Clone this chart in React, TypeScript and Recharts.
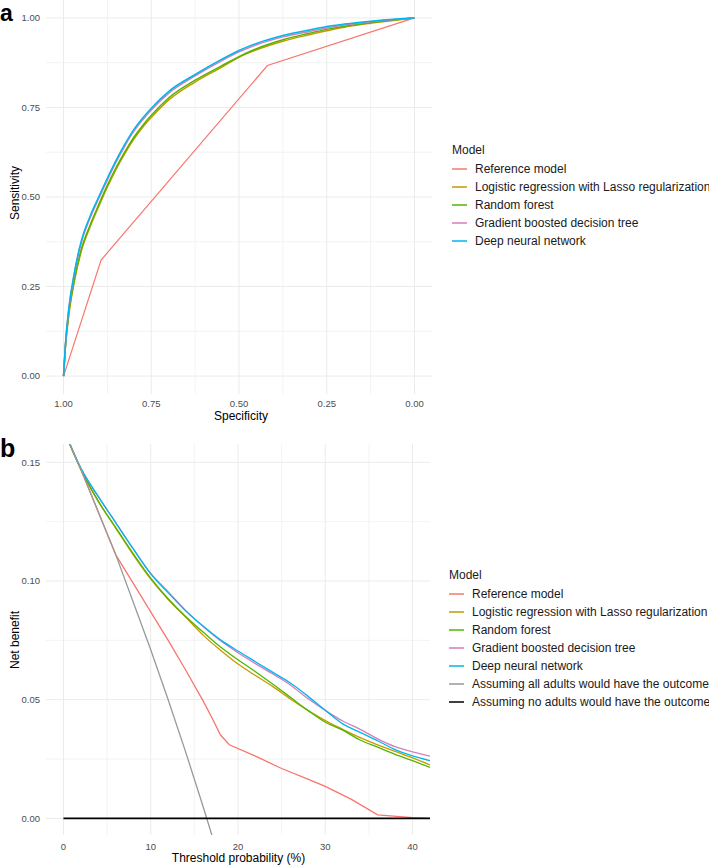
import React from "react"
import { LineChart, Line, XAxis, YAxis, CartesianGrid, Legend } from "recharts"

const FONT = "'Liberation Sans', Arial, Helvetica, sans-serif"

const modelNames = [
  "Reference model",
  "Logistic regression with Lasso regularization",
  "Random forest",
  "Gradient boosted decision tree",
  "Deep neural network",
]
const modelColors = ["#F8766D", "#C49A00", "#53B400", "#D67DBA", "#00B6EB"]
const baselineNames = ["Assuming all adults would have the outcome", "Assuming no adults would have the outcome"]
const baselineColors = ["#999999", "#000000"]

// panel a: ROC curves (specificity -> sensitivity)
const refSpec = [1, 0.893, 0.419, 0]
const refSens = [0, 0.324, 0.867, 1]

const rocSpec = [1, 0.995, 0.985, 0.97, 0.95, 0.925, 0.9, 0.875, 0.85, 0.825, 0.8, 0.775, 0.75, 0.7, 0.625, 0.55, 0.5, 0.45, 0.375, 0.3, 0.25, 0.2, 0.125, 0.05, 0]
const sensLasso = [0, 0.075, 0.17, 0.26, 0.347, 0.415, 0.473, 0.528, 0.578, 0.622, 0.661, 0.694, 0.722, 0.771, 0.821, 0.862, 0.89, 0.911, 0.935, 0.953, 0.964, 0.974, 0.985, 0.994, 1]
const sensRf = [0, 0.078, 0.175, 0.265, 0.352, 0.42, 0.478, 0.533, 0.583, 0.627, 0.666, 0.699, 0.728, 0.777, 0.826, 0.866, 0.892, 0.914, 0.939, 0.957, 0.968, 0.977, 0.987, 0.995, 1]
const sensGbdt = [0, 0.083, 0.187, 0.281, 0.371, 0.44, 0.495, 0.548, 0.598, 0.643, 0.683, 0.715, 0.743, 0.79, 0.838, 0.88, 0.905, 0.925, 0.947, 0.962, 0.972, 0.98, 0.989, 0.996, 1]
const sensDnn = [0, 0.085, 0.19, 0.285, 0.375, 0.445, 0.5, 0.553, 0.603, 0.648, 0.688, 0.72, 0.748, 0.795, 0.842, 0.884, 0.909, 0.929, 0.951, 0.966, 0.976, 0.983, 0.991, 0.997, 1]

const rocTicks = [0, 0.25, 0.5, 0.75, 1]
const rocMinor = [0.125, 0.375, 0.625, 0.875]

// panel b: decision curves (threshold % -> net benefit)
const thr = [0, 2, 4, 6, 8, 10, 12, 14, 16, 18, 20, 22, 24, 26, 28, 30, 32, 34, 36, 38, 40, 42]
const nbLasso = [0.164, 0.147, 0.1335, 0.1222, 0.111, 0.1008, 0.0922, 0.0848, 0.0772, 0.0708, 0.065, 0.0602, 0.0555, 0.0503, 0.0455, 0.0412, 0.0375, 0.034, 0.031, 0.0282, 0.0255, 0.0225]
const nbRf = [0.164, 0.147, 0.1335, 0.1225, 0.1115, 0.1012, 0.0925, 0.085, 0.0785, 0.0722, 0.0668, 0.0618, 0.0565, 0.051, 0.0455, 0.0405, 0.0372, 0.033, 0.03, 0.027, 0.0243, 0.0215]
const nbGbdt = [0.164, 0.1475, 0.1355, 0.1245, 0.1135, 0.1032, 0.0955, 0.0875, 0.0808, 0.0748, 0.0698, 0.0652, 0.0608, 0.0562, 0.0505, 0.0455, 0.041, 0.0375, 0.0335, 0.0302, 0.028, 0.0262]
const nbDnn = [0.164, 0.1475, 0.1355, 0.1245, 0.1135, 0.103, 0.095, 0.0875, 0.081, 0.0752, 0.0705, 0.066, 0.0615, 0.057, 0.0515, 0.0455, 0.0398, 0.0362, 0.0327, 0.029, 0.0263, 0.0243]

const refThr = [0, 2, 4, 6, 8, 10, 12, 14, 16, 17, 18, 19, 22, 25, 28, 30, 33, 36, 40, 42]
const nbRef = [0.164, 0.147, 0.129, 0.111, 0.099, 0.087, 0.075, 0.0625, 0.0495, 0.0425, 0.0351, 0.031, 0.0262, 0.021, 0.0165, 0.0135, 0.008, 0.0015, 0.0003, 0]

const allThr = [0, 2, 4, 6, 8, 10, 12, 14, 16, 18]
const nbAll = [0.164, 0.147, 0.129, 0.111, 0.091, 0.071, 0.05, 0.028, 0.005, -0.019]
const noneThr = [0, 42]
const nbNone = [0, 0]

const nbTicks = [0, 0.05, 0.1, 0.15]
const nbMinor = [0.025, 0.075, 0.125]
const thrTicks = [0, 10, 20, 30, 40]
const thrMinor = [5, 15, 25, 35]

const zip = (xs: number[], ys: number[]) => xs.map((x, i) => ({ x, y: ys[i] }))

const rocSeries = [
  zip(refSpec, refSens),
  zip(rocSpec, sensLasso),
  zip(rocSpec, sensRf),
  zip(rocSpec, sensGbdt),
  zip(rocSpec, sensDnn),
]
const dcaSeries = [
  zip(refThr, nbRef),
  zip(thr, nbLasso),
  zip(thr, nbRf),
  zip(thr, nbGbdt),
  zip(thr, nbDnn),
  zip(allThr, nbAll),
  zip(noneThr, nbNone),
]

const tickStyle = { fontSize: 9.5, fill: "#4D4D4D", fontFamily: FONT }

function ModelLegend({ names, colors }: { names: string[]; colors: string[] }) {
  return (
    <div style={{ fontFamily: FONT, fontSize: 12, color: "#1a1a1a", whiteSpace: "nowrap" }}>
      <div style={{ height: 20, lineHeight: "20px" }}>Model</div>
      {names.map((n, i) => (
        <div key={n} style={{ height: 18, display: "flex", alignItems: "center" }}>
          <svg width={23} height={18} style={{ flex: "none" }}>
            <line x1={0} x2={15} y1={9} y2={9} stroke={colors[i]} strokeWidth={1.5} />
          </svg>
          <span style={{ lineHeight: "18px" }}>{n}</span>
        </div>
      ))}
    </div>
  )
}

export default function App() {
  const dcaNames = [...modelNames, ...baselineNames]
  const dcaColors = [...modelColors, ...baselineColors]
  return (
    <div style={{ position: "absolute", left: 0, top: 0, width: 709, height: 865, background: "#fff" }}>
      <div style={{ position: "absolute", left: 0, top: 0 }}>
        <LineChart width={709} height={420} margin={{ top: 0, right: 277, bottom: 6, left: 0 }}>
          <CartesianGrid stroke="#EEEEEE" strokeWidth={0.7} horizontalValues={rocMinor} verticalValues={rocMinor} />
          <CartesianGrid stroke="#EBEBEB" strokeWidth={1} horizontalValues={rocTicks} verticalValues={rocTicks} />
          <XAxis
            type="number"
            dataKey="x"
            reversed
            domain={[-0.05, 1.05]}
            allowDataOverflow
            ticks={rocTicks}
            interval={0}
            tickFormatter={(v) => Number(v).toFixed(2)}
            axisLine={false}
            tickLine={false}
            tickSize={0}
            tickMargin={6}
            height={20}
            tick={tickStyle}
          />
          <YAxis
            type="number"
            domain={[-0.05, 1.05]}
            allowDataOverflow
            ticks={rocTicks}
            interval={0}
            tickFormatter={(v) => Number(v).toFixed(2)}
            axisLine={false}
            tickLine={false}
            tickSize={0}
            tickMargin={6}
            width={46}
            tick={tickStyle}
          />
          {rocSeries.map((d, i) => (
            <Line
              key={modelNames[i]}
              data={d}
              dataKey="y"
              name={modelNames[i]}
              type={i === 0 ? "linear" : "monotone"}
              stroke={modelColors[i]}
              strokeWidth={i === 0 ? 1.2 : 1.5}
              dot={false}
              isAnimationActive={false}
            />
          ))}
          <Legend
            layout="vertical"
            align="center"
            verticalAlign="middle"
            wrapperStyle={{ left: 452, top: 140 }}
            content={() => <ModelLegend names={modelNames} colors={modelColors} />}
          />
        </LineChart>
      </div>

      <div style={{ position: "absolute", left: 0, top: 430 }}>
        <LineChart width={709} height={435} margin={{ top: 14, right: 279, bottom: 10, left: 0 }}>
          <CartesianGrid stroke="#EEEEEE" strokeWidth={0.7} horizontalValues={nbMinor} verticalValues={thrMinor} />
          <CartesianGrid stroke="#EBEBEB" strokeWidth={1} horizontalValues={nbTicks} verticalValues={thrTicks} />
          <XAxis
            type="number"
            dataKey="x"
            domain={[-2, 42]}
            allowDataOverflow
            ticks={thrTicks}
            interval={0}
            axisLine={false}
            tickLine={false}
            tickSize={0}
            tickMargin={8}
            height={20}
            tick={tickStyle}
          />
          <YAxis
            type="number"
            domain={[-0.007, 0.1577]}
            allowDataOverflow
            ticks={nbTicks}
            interval={0}
            tickFormatter={(v) => Number(v).toFixed(2)}
            axisLine={false}
            tickLine={false}
            tickSize={0}
            tickMargin={6}
            width={46}
            tick={tickStyle}
          />
          {dcaSeries.map((d, i) => (
            <Line
              key={dcaNames[i]}
              data={d}
              dataKey="y"
              name={dcaNames[i]}
              type={i === 0 || i >= 5 ? "linear" : "monotone"}
              stroke={dcaColors[i]}
              strokeWidth={i === 6 ? 1.6 : 1.3}
              dot={false}
              isAnimationActive={false}
            />
          ))}
          <Legend
            layout="vertical"
            align="center"
            verticalAlign="middle"
            wrapperStyle={{ left: 449, top: 135 }}
            content={() => <ModelLegend names={dcaNames} colors={dcaColors} />}
          />
        </LineChart>
      </div>

      <svg width={709} height={865} style={{ position: "absolute", left: 0, top: 0, pointerEvents: "none" }}>
        <g fontFamily={FONT}>
          <text x={0} y={21} fontSize={23} fontWeight="bold" fill="#000">a</text>
          <text x={0} y={457} fontSize={25} fontWeight="bold" fill="#000">b</text>
          <text x={241} y={419.5} fontSize={12} textAnchor="middle" fill="#000">Specificity</text>
          <text x={238.5} y={862} fontSize={12} textAnchor="middle" fill="#000">Threshold probability (%)</text>
          <text transform="translate(18.5,193) rotate(-90)" fontSize={12} textAnchor="middle" fill="#000">Sensitivity</text>
          <text transform="translate(18.5,640) rotate(-90)" fontSize={12} textAnchor="middle" fill="#000">Net benefit</text>
        </g>
      </svg>
    </div>
  )
}
